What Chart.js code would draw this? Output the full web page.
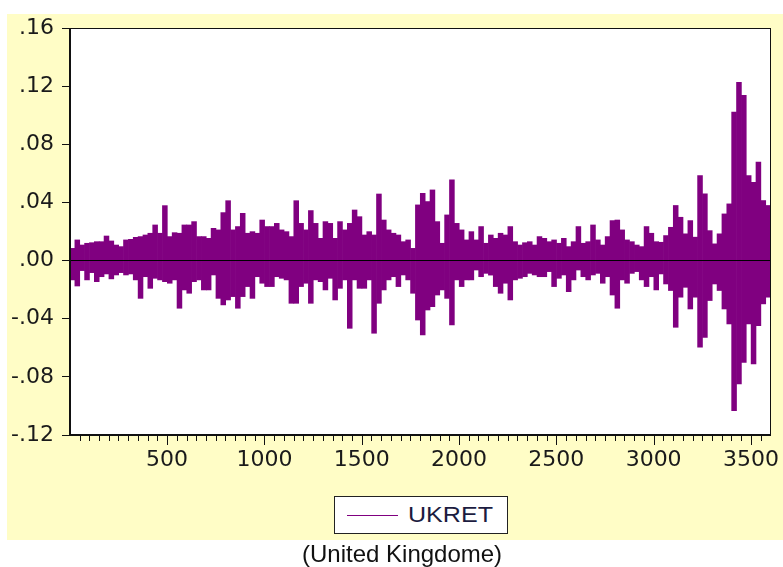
<!DOCTYPE html>
<html><head><meta charset="utf-8">
<script src="https://cdn.jsdelivr.net/npm/chart.js@4.4.1/dist/chart.umd.min.js"></script>
<style>
html,body{margin:0;padding:0;background:#fff;}
#wrap{position:relative;width:783px;height:567px;overflow:hidden;background:#fff;}
#c{position:absolute;left:0;top:0;}
#legend{position:absolute;left:334px;top:496px;width:172px;height:36px;border:1px solid #222;background:#fff;}
#legend .ln{position:absolute;left:12px;top:18px;width:51px;height:0;border-top:1px solid #800080;}
#legend .tx{position:absolute;left:73px;top:6px;font-size:22px;font-family:"Liberation Sans",Arial,sans-serif;color:#1c1c40;line-height:24px;transform:scaleX(1.14);transform-origin:left center;white-space:nowrap;}
#cap{position:absolute;left:302px;top:540px;font-size:24px;font-family:"Liberation Sans",Arial,sans-serif;color:#111;line-height:27px;white-space:nowrap;}
</style>
</head><body>
<div id="wrap">
<canvas id="c" width="783" height="567"></canvas>
<div id="legend"><div class="ln"></div><div class="tx">UKRET</div></div>
<div id="cap">(United Kingdome)</div>
</div>
<script>
const xMin = 1, xMax = 3598, colStep = 25;
// Y tick values and labels
const yTicks = [-0.12, -0.08, -0.04, 0.00, 0.04, 0.08, 0.12, 0.16];
const yTickLabels = ['-.12', '-.08', '-.04', '.00', '.04', '.08', '.12', '.16'];
// X major tick labels
const xMajor = [500, 1000, 1500, 2000, 2500, 3000, 3500];
const xMajorLabels = ['500', '1000', '1500', '2000', '2500', '3000', '3500'];
const seriesName = 'UKRET';
// Upper envelope of UKRET per column of 25 observations
const hiVals = [
 .0084,.0142,.0107,.0119,.0123,.0130,.0130,.0169,.0135,.0107,.0096,.0142,.0146,.0160,.0165,.0176,.0188,.0245,.0188,.0378,.0165,.0192,.0188,.0245,
 .0245,.0268,.0165,.0165,.0153,.0222,.0211,.0330,.0412,.0211,.0234,.0325,.0188,.0199,.0188,.0279,.0234,.0234,.0256,.0211,.0199,.0165,.0412,.0256,
 .0211,.0344,.0256,.0153,.0268,.0256,.0153,.0268,.0211,.0256,.0348,.0302,.0176,.0199,.0176,.0458,.0279,.0211,.0188,.0176,.0130,.0142,.0084,.0383,.0463,
 .0406,.0486,.0268,.0119,.0314,.0555,.0256,.0211,.0142,.0199,.0142,.0234,.0119,.0176,.0153,.0188,.0176,.0234,.0130,.0107,.0123,.0130,.0107,.0165,
 .0153,.0130,.0142,.0119,.0153,.0096,.0130,.0234,.0119,.0130,.0245,.0142,.0107,.0165,.0275,.0279,.0211,.0142,.0130,.0107,.0096,.0234,.0188,.0130,
 .0126,.0172,.0229,.0379,.0298,.0184,.0275,.0161,.0585,.0459,.0206,.0115,.0184,.0321,.0390,.1021,.1227,.1136,.0585,.0539,.0677,.0413,.0379
];
// Lower envelope of UKRET per column of 25 observations
const loVals = [
 -.0133,-.0175,-.0069,-.0133,-.0083,-.0145,-.0111,-.0092,-.0126,-.0099,-.0083,-.0099,-.0092,-.0133,-.0260,-.0111,-.0191,-.0122,-.0133,-.0145,-.0156,-.0133,-.0328,-.0202,
 -.0225,-.0145,-.0133,-.0202,-.0202,-.0099,-.0260,-.0305,-.0271,-.0248,-.0328,-.0248,-.0179,-.0260,-.0111,-.0156,-.0179,-.0179,-.0111,-.0122,-.0133,-.0294,-.0294,-.0179,
 -.0156,-.0294,-.0133,-.0145,-.0202,-.0122,-.0271,-.0191,-.0133,-.0466,-.0133,-.0191,-.0191,-.0133,-.0500,-.0294,-.0202,-.0133,-.0111,-.0179,-.0099,-.0133,-.0225,-.0409,-.0512,
 -.0340,-.0317,-.0237,-.0202,-.0260,-.0443,-.0133,-.0179,-.0133,-.0133,-.0065,-.0111,-.0088,-.0100,-.0179,-.0225,-.0156,-.0271,-.0133,-.0122,-.0111,-.0088,-.0099,-.0111,
 -.0111,-.0076,-.0179,-.0122,-.0099,-.0214,-.0133,-.0065,-.0111,-.0133,-.0099,-.0088,-.0156,-.0111,-.0237,-.0328,-.0133,-.0156,-.0088,-.0076,-.0133,-.0179,-.0111,-.0202,
 -.0092,-.0161,-.0206,-.0459,-.0252,-.0184,-.0333,-.0252,-.0596,-.0528,-.0275,-.0161,-.0206,-.0333,-.0436,-.1032,-.0849,-.0700,-.0436,-.0711,-.0447,-.0298,-.0252
];

const points = hiVals.map((h, k) => ({x: xMin + colStep * k + colStep / 2, y: [loVals[k], h]}));
const TICKFONT = '"DejaVu Sans", "Liberation Sans", Arial, sans-serif';

const framePlugin = {
  id: 'frame',
  beforeDraw(chart) {
    const ctx = chart.ctx, a = chart.chartArea;
    ctx.save();
    ctx.fillStyle = '#ffffff';
    ctx.fillRect(0, 0, chart.width, chart.height);
    ctx.fillStyle = '#fffdc6';
    ctx.fillRect(7, 14, chart.width - 7, 526);
    ctx.fillStyle = '#ffffff';
    ctx.fillRect(a.left, a.top, a.right - a.left, a.bottom - a.top);
    ctx.restore();
  },
  afterDraw(chart) {
    const ctx = chart.ctx, a = chart.chartArea, xs = chart.scales.x;
    ctx.save();
    ctx.strokeStyle = '#111';
    ctx.lineWidth = 1;
    ctx.strokeRect(Math.round(a.left) + 0.5, Math.round(a.top) + 0.5, Math.round(a.right - a.left), Math.round(a.bottom - a.top));
    ctx.lineWidth = 2;
    ctx.beginPath();
    ctx.moveTo(a.left, a.top); ctx.lineTo(a.left, a.bottom); ctx.lineTo(a.right, a.bottom);
    ctx.stroke();
    ctx.lineWidth = 1;
    ctx.beginPath();
    xs.ticks.forEach(t => {
      const px = Math.round(xs.getPixelForValue(t.value)) + 0.5;
      const len = xMajor.includes(t.value) ? 10 : 6;
      ctx.moveTo(px, a.bottom); ctx.lineTo(px, a.bottom + len);
    });
    ctx.stroke();
    ctx.restore();
  }
};

new Chart(document.getElementById('c'), {
  type: 'bar',
  data: { datasets: [{
    label: seriesName,
    data: points,
    backgroundColor: '#800080',
    borderWidth: 0,
    barPercentage: 1,
    categoryPercentage: 1,
    grouped: false
  }]},
  options: {
    responsive: false,
    animation: false,
    devicePixelRatio: 1,
    layout: { padding: { left: 0, top: 28, right: 13, bottom: 0 } },
    plugins: { legend: { display: false }, tooltip: { enabled: false } },
    scales: {
      x: {
        type: 'linear', min: xMin, max: xMax, offset: false,
        afterBuildTicks(s) { const t = []; for (let v = 50; v < xMax; v += 50) t.push({value: v}); s.ticks = t; },
        afterFit(s) { s.height = 132; },
        grid: { display: true, drawOnChartArea: false, drawTicks: true, tickLength: 10, tickColor: 'rgba(0,0,0,0)' },
        border: { display: false },
        ticks: {
          autoSkip: false, maxRotation: 0, minRotation: 0, padding: 2,
          color: '#1a1a1a', font: { family: TICKFONT, size: 22 },
          callback(v) { const i = xMajor.indexOf(v); return i >= 0 ? xMajorLabels[i] : ''; }
        }
      },
      y: {
        type: 'linear', min: -0.12, max: 0.16,
        afterBuildTicks(s) { s.ticks = yTicks.map(v => ({value: v})); },
        afterFit(s) { s.width = 70; },
        grid: {
          z: 1, drawTicks: true, tickLength: 8, tickColor: '#111', lineWidth: 1,
          color(c) { return (c.tick && Math.abs(c.tick.value) < 1e-9) ? '#000' : 'rgba(0,0,0,0)'; }
        },
        border: { display: false },
        ticks: {
          padding: 8, color: '#1a1a1a', font: { family: TICKFONT, size: 22 },
          callback(v) { const i = yTicks.findIndex(t => Math.abs(t - v) < 1e-9); return i >= 0 ? yTickLabels[i] : ''; }
        }
      }
    }
  },
  plugins: [framePlugin]
});
</script>
</body></html>
